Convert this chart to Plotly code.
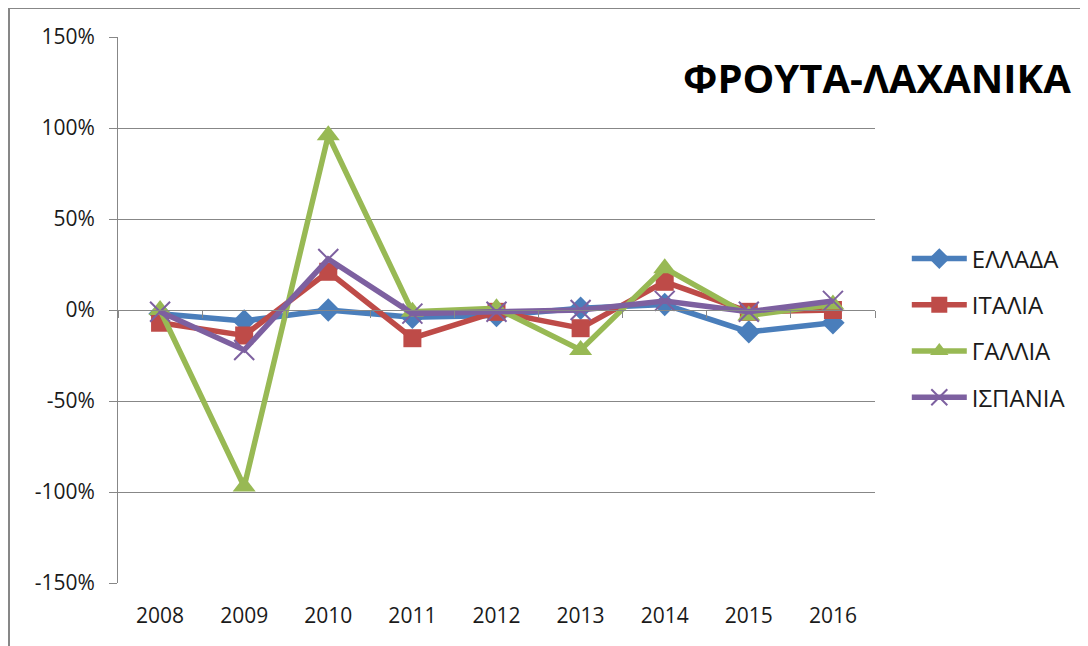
import plotly.graph_objects as go

years = ["2008", "2009", "2010", "2011", "2012", "2013", "2014", "2015", "2016"]
greece = [-0.02, -0.06, 0.00, -0.04, -0.03, 0.01, 0.03, -0.12, -0.07]
italy = [-0.07, -0.14, 0.21, -0.155, -0.01, -0.10, 0.155, -0.01, 0.00]
france = [0.00, -0.97, 0.96, -0.01, 0.01, -0.22, 0.23, -0.03, 0.03]
spain = [-0.01, -0.22, 0.28, -0.02, -0.01, 0.00, 0.05, -0.01, 0.05]

ytick_vals = [-1.5, -1.0, -0.5, 0.0, 0.5, 1.0, 1.5]
ytick_text = ["-150%", "-100%", "-50%", "0%", "50%", "100%", "150%"]

names = ["ΕΛΛΑΔΑ", "ΙΤΑΛΙΑ", "ΓΑΛΛΙΑ", "ΙΣΠΑΝΙΑ"]
colors = ["#4A7EBB", "#BE4B48", "#98B954", "#7D60A0"]
symbols = ["diamond", "square", "triangle-up", "x-thin"]
sizes = [18, 18, 20, 20]
series = [greece, italy, france, spain]

fig = go.Figure()
for name, vals, col, sym, sz in zip(names, series, colors, symbols, sizes):
    marker = dict(symbol=sym, size=sz, color=col)
    if sym == "x-thin":
        marker["line"] = dict(color=col, width=2)
    fig.add_trace(go.Scatter(
        x=years, y=vals, name=name, mode="lines+markers",
        line=dict(color=col, width=5.5), marker=marker,
        legendgroup=name,
    ))

# invisible trace on the label axis so that categories register
fig.add_trace(go.Scatter(x=years, y=greece, xaxis="x2", mode="lines",
                         line=dict(width=0), opacity=0, showlegend=False,
                         hoverinfo="skip"))

W, H = 1088, 646
# page body has an 8px margin, so coordinates are shifted by 8px
OFF = 8
L, R, T, B = 118 - OFF, 1088 - 875 + OFF, 37 - OFF, 646 - 583 + OFF
pw, ph = W - L - R, H - T - B


def px_x(x):
    return (x - OFF - L) / pw


def px_y(y):
    return (H - B - (y - OFF)) / ph


fig.update_layout(
    width=W, height=H,
    margin=dict(l=L, r=R, t=T, b=B, autoexpand=False),
    paper_bgcolor="white", plot_bgcolor="white",
    font=dict(family="Open Sans", size=21, color="#1a1a1a"),
    showlegend=True,
    legend=dict(x=1.042, y=px_y(328), xanchor="left", yanchor="middle",
                font=dict(size=24), itemwidth=55, tracegroupgap=12,
                bgcolor="rgba(0,0,0,0)"),
    yaxis=dict(range=[-1.5, 1.5], tickvals=ytick_vals, ticktext=ytick_text,
               showgrid=True, gridcolor="#878787", gridwidth=1,
               showline=True, linecolor="#878787", linewidth=1,
               ticks="outside", ticklen=8, tickcolor="#878787",
               zeroline=False, ticklabelstandoff=10),
    xaxis=dict(type="category", categoryarray=years, range=[-0.5, 8.5],
               anchor="free", position=0.5, showticklabels=False,
               showline=True, linecolor="#878787", linewidth=1,
               ticks="outside", tickson="boundaries", ticklen=7,
               tickcolor="#878787", showgrid=False, zeroline=False),
    xaxis2=dict(type="category", categoryarray=years, range=[-0.5, 8.5],
                overlaying="x", anchor="y", side="bottom",
                showline=False, showgrid=False, ticks="",
                ticklabelstandoff=18, zeroline=False),
)

fig.add_annotation(text="<b>ΦΡΟΥΤΑ-ΛΑΧΑΝΙΚΑ</b>", xref="paper", yref="paper",
                   x=px_x(681), y=px_y(78), xanchor="left",
                   yanchor="middle", showarrow=False,
                   font=dict(family="Open Sans", size=40, color="black"))

fig.add_shape(type="rect", xref="paper", yref="paper",
              x0=px_x(9), x1=px_x(W + 40),
              y0=px_y(H + 40), y1=px_y(8),
              line=dict(color="#878787", width=2), fillcolor="rgba(0,0,0,0)",
              layer="below")

fig.write_html("out.html")
